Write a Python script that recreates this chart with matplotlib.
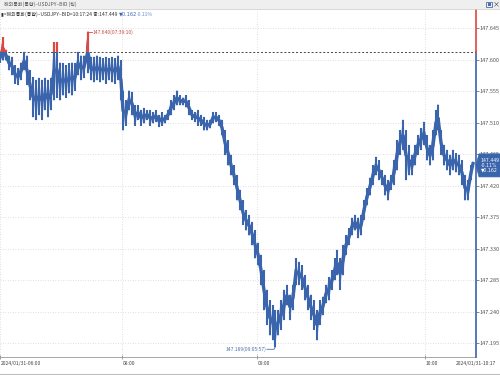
import matplotlib
matplotlib.use("Agg")
import matplotlib.pyplot as plt
from matplotlib.patches import Rectangle, Polygon
import numpy as np

plt.rcParams['font.family'] = ['Noto Sans CJK KR', 'DejaVu Sans']

# tick index (horizontal position in ticks) and price range read at each point
tick_pos = [0, 3, 6, 9, 12, 15, 18, 21, 24, 27, 30, 33, 36, 39, 42, 45, 48, 51, 54, 57,
            60, 63, 66, 69, 72, 75, 78, 81, 84, 88, 91, 94, 97, 100, 103, 106, 109, 112, 115, 118,
            121, 123, 126, 129, 132, 135, 138, 141, 144, 147, 150, 153, 156, 159, 162, 165, 168, 171, 174, 177,
            180, 183, 186, 189, 192, 195, 198, 201, 204, 207, 210, 213, 216, 219, 222, 225, 228, 231, 234, 237,
            240, 243, 246, 249, 252, 255, 258, 261, 264, 267, 270, 273, 275, 278, 281, 284, 287, 290, 293, 296,
            299, 302, 305, 308, 311, 314, 317, 320, 323, 326, 329, 332, 335, 337, 340, 343, 346, 349, 352, 355,
            358, 361, 364, 367, 370, 373, 376, 379, 382, 385, 388, 391, 394, 397, 400, 403, 406, 409, 412, 415,
            418, 421, 424, 427, 430, 433, 436, 438, 441, 444, 447, 450, 453, 456, 459, 462, 465, 468, 471, 473]

price_hi = [147.609, 147.632, 147.614, 147.606, 147.604, 147.592, 147.588, 147.596, 147.611, 147.606,
            147.585, 147.575, 147.571, 147.574, 147.571, 147.574, 147.571, 147.574, 147.625, 147.625,
            147.596, 147.595, 147.592, 147.595, 147.596, 147.595, 147.611, 147.606, 147.606, 147.640,
            147.604, 147.604, 147.606, 147.604, 147.602, 147.604, 147.602, 147.604, 147.602, 147.606,
            147.599, 147.556, 147.542, 147.556, 147.554, 147.535, 147.535, 147.528, 147.531, 147.528,
            147.528, 147.525, 147.528, 147.521, 147.525, 147.521, 147.528, 147.542, 147.549, 147.556,
            147.549, 147.546, 147.549, 147.542, 147.528, 147.525, 147.528, 147.521, 147.518, 147.514,
            147.514, 147.525, 147.525, 147.521, 147.514, 147.499, 147.485, 147.464, 147.449, 147.435,
            147.414, 147.399, 147.385, 147.378, 147.368, 147.356, 147.338, 147.321, 147.299, 147.271,
            147.256, 147.249, 147.242, 147.242, 147.256, 147.271, 147.278, 147.264, 147.278, 147.316,
            147.311, 147.306, 147.292, 147.278, 147.264, 147.256, 147.242, 147.256, 147.261, 147.278,
            147.289, 147.299, 147.316, 147.328, 147.316, 147.335, 147.349, 147.359, 147.374, 147.378,
            147.374, 147.378, 147.399, 147.416, 147.431, 147.449, 147.461, 147.456, 147.442, 147.435,
            147.428, 147.435, 147.456, 147.485, 147.499, 147.514, 147.499, 147.478, 147.464, 147.478,
            147.492, 147.502, 147.511, 147.492, 147.478, 147.499, 147.528, 147.536, 147.499, 147.478,
            147.471, 147.464, 147.471, 147.466, 147.464, 147.456, 147.435, 147.428, 147.449, 147.454]

price_lo = [147.596, 147.599, 147.599, 147.585, 147.578, 147.566, 147.564, 147.571, 147.585, 147.564,
            147.542, 147.518, 147.514, 147.521, 147.514, 147.528, 147.518, 147.528, 147.542, 147.546,
            147.542, 147.549, 147.546, 147.552, 147.549, 147.556, 147.578, 147.571, 147.574, 147.581,
            147.571, 147.568, 147.571, 147.568, 147.571, 147.566, 147.571, 147.568, 147.566, 147.571,
            147.542, 147.499, 147.506, 147.528, 147.521, 147.506, 147.514, 147.506, 147.509, 147.514,
            147.506, 147.509, 147.511, 147.504, 147.506, 147.509, 147.514, 147.521, 147.528, 147.535,
            147.535, 147.535, 147.532, 147.521, 147.514, 147.511, 147.506, 147.506, 147.499, 147.499,
            147.502, 147.509, 147.511, 147.506, 147.492, 147.464, 147.449, 147.435, 147.421, 147.399,
            147.385, 147.364, 147.356, 147.349, 147.335, 147.316, 147.306, 147.278, 147.242, 147.221,
            147.206, 147.199, 147.189, 147.206, 147.214, 147.228, 147.249, 147.228, 147.242, 147.278,
            147.278, 147.271, 147.256, 147.242, 147.228, 147.214, 147.199, 147.221, 147.235, 147.252,
            147.256, 147.271, 147.285, 147.292, 147.271, 147.292, 147.321, 147.335, 147.349, 147.356,
            147.345, 147.349, 147.371, 147.392, 147.406, 147.421, 147.435, 147.428, 147.421, 147.406,
            147.399, 147.414, 147.421, 147.442, 147.464, 147.471, 147.428, 147.435, 147.435, 147.449,
            147.464, 147.471, 147.478, 147.456, 147.449, 147.456, 147.492, 147.499, 147.464, 147.449,
            147.442, 147.435, 147.442, 147.439, 147.435, 147.421, 147.399, 147.399, 147.428, 147.449]

prev_close = 147.611
last_price = 147.449
change = "▼0.162"
change_pct = "-0.11%"
high_val, high_pos, high_time = 147.640, 88, "07:39:10"
low_val, low_pos, low_time = 147.189, 275, "09:05:57"

y_ticks = [147.195, 147.240, 147.285, 147.330, 147.375, 147.420, 147.465, 147.510, 147.555, 147.600, 147.645]
time_pos = [0, 122, 257, 425]
time_labels = ["2024/01/31-06:00", "08:00", "09:00", "10:00"]
n_ticks = 476

BLUE = '#3a64ab'
RED = '#e2463d'
FS = 3.6

fig = plt.figure(figsize=(5, 3.75), dpi=100)
ax = fig.add_axes([0.0, 0.048, 0.952, 0.925])
ax.set_xlim(0, n_ticks)
ax.set_ylim(147.175, 147.671)

# tick range as whiskers, with a thick path through the middle of each range
lo = np.array(price_lo)
hi = np.array(price_hi)
mid = (lo + hi) / 2
zx = np.repeat(tick_pos, 2)
zy = np.column_stack([hi, lo]).ravel()
clip_rect = Rectangle((0, prev_close), n_ticks, 1, transform=ax.transData)
for col, clipped in [(BLUE, False), (RED, True)]:
    arts = [ax.vlines(tick_pos, lo, hi, color=col, lw=1.5, zorder=3),
            ax.plot(tick_pos, mid, color=col, lw=2.4, solid_joinstyle='miter', zorder=3)[0],
            ax.plot(zx, zy, color=col, lw=0.6, zorder=3)[0]]
    if clipped:
        for a in arts:
            a.set_clip_path(clip_rect)

ax.axhline(prev_close, color='#444444', lw=0.7, ls=(0, (2, 2)), zorder=2)

ax.set_yticks(y_ticks)
ax.set_yticklabels([f"{v:.3f}" for v in y_ticks])
ax.yaxis.tick_right()
ax.tick_params(axis='y', length=2, width=0.5, pad=0.5, labelsize=4.0, colors='#555555')
ax.set_xticks(time_pos)
ax.set_xticklabels([])
ax.tick_params(axis='x', length=3, width=0.5, direction='inout', colors='#777777')
for p, t in zip(time_pos, time_labels):
    ax.text(p + 1, -0.012, t, transform=ax.get_xaxis_transform(), ha='left', va='top',
            fontsize=FS, color='#444444')
ax.text(1.043, -0.012, "2024/01/31-10:17", transform=ax.transAxes, ha='right', va='top',
        fontsize=FS, color='#444444')

ax.grid(color='#d5d5d5', ls=(0, (1, 2)), lw=0.6)
for s in ['top', 'left', 'right']:
    ax.spines[s].set_visible(False)
ax.spines['bottom'].set_color('#999999')
ax.spines['bottom'].set_linewidth(0.6)

# right price axis, red above previous close
ax.plot([n_ticks, n_ticks], [147.175, prev_close], color=BLUE, lw=1.2, clip_on=False, zorder=5)
ax.plot([n_ticks, n_ticks], [prev_close, 147.671], color=RED, lw=1.2, clip_on=False, zorder=5)

# high / low labels
ax.plot([high_pos, high_pos + 4], [high_val, high_val], color=RED, lw=0.6, zorder=4)
ax.text(high_pos + 5, high_val, f"{high_val:.3f}({high_time})", fontsize=FS, color='#c84a40',
        va='center', ha='left')
ax.plot([low_pos - 8, low_pos - 1, low_pos], [low_val - 0.003, low_val - 0.003, low_val],
        color='#5070a8', lw=0.6, zorder=4)
ax.text(low_pos - 9, low_val - 0.003, f"{low_val:.3f}({low_time})", fontsize=FS, color='#5070a8',
        va='center', ha='right')

# last price tag
h = 0.0165
tag = Polygon([(n_ticks, last_price), (n_ticks + 3, last_price + h), (n_ticks + 24, last_price + h),
               (n_ticks + 24, last_price - h), (n_ticks + 3, last_price - h)],
              closed=True, fc=BLUE, ec=BLUE, lw=0.5, clip_on=False, zorder=6)
ax.add_patch(tag)
ax.text(n_ticks + 13.5, last_price, f"{last_price:.3f}\n{change_pct}\n{change}", ha='center',
        va='center', fontsize=3.3, color='white', linespacing=1.0, zorder=7,
        family=['DejaVu Sans'])

# window title bar and header line
fig.patches.append(Rectangle((0, 0.975), 1, 0.025, transform=fig.transFigure,
                             fc='#efefef', ec='none', zorder=0))
fig.add_artist(plt.Line2D([0, 1], [0.975, 0.975], color='#c8c8c8', lw=0.5))
fig.add_artist(plt.Line2D([0, 1], [0.004, 0.004], color='#c0c0c0', lw=0.8))
fig.text(0.008, 0.9875, "해외통화(통합)–USDJPY–BID (틱)", fontsize=FS, color='#555555', va='center')
fig.patches.append(Rectangle((0.972, 0.981), 0.011, 0.013, transform=fig.transFigure,
                             fc='none', ec='#4a6fae', lw=0.6))
fig.patches.append(Rectangle((0.975, 0.984), 0.006, 0.007, transform=fig.transFigure,
                             fc='#4a6fae', ec='none'))
fig.text(0.992, 0.9875, "×", fontsize=5, color='#333333', va='center', ha='center')
fig.text(0.002, 0.962, "▮<해외통화(통합)–USDJPY–BID>10:17:24 종:147.449", fontsize=FS,
         color='#333333', va='center', family=['Noto Sans CJK KR', 'DejaVu Sans'])
fig.text(0.238, 0.962, change, fontsize=FS, color='#3a64ab', va='center',
         family=['DejaVu Sans'])
fig.text(0.274, 0.962, change_pct, fontsize=FS, color='#6d8fcc', va='center')

fig.savefig("out.png", dpi=100)
